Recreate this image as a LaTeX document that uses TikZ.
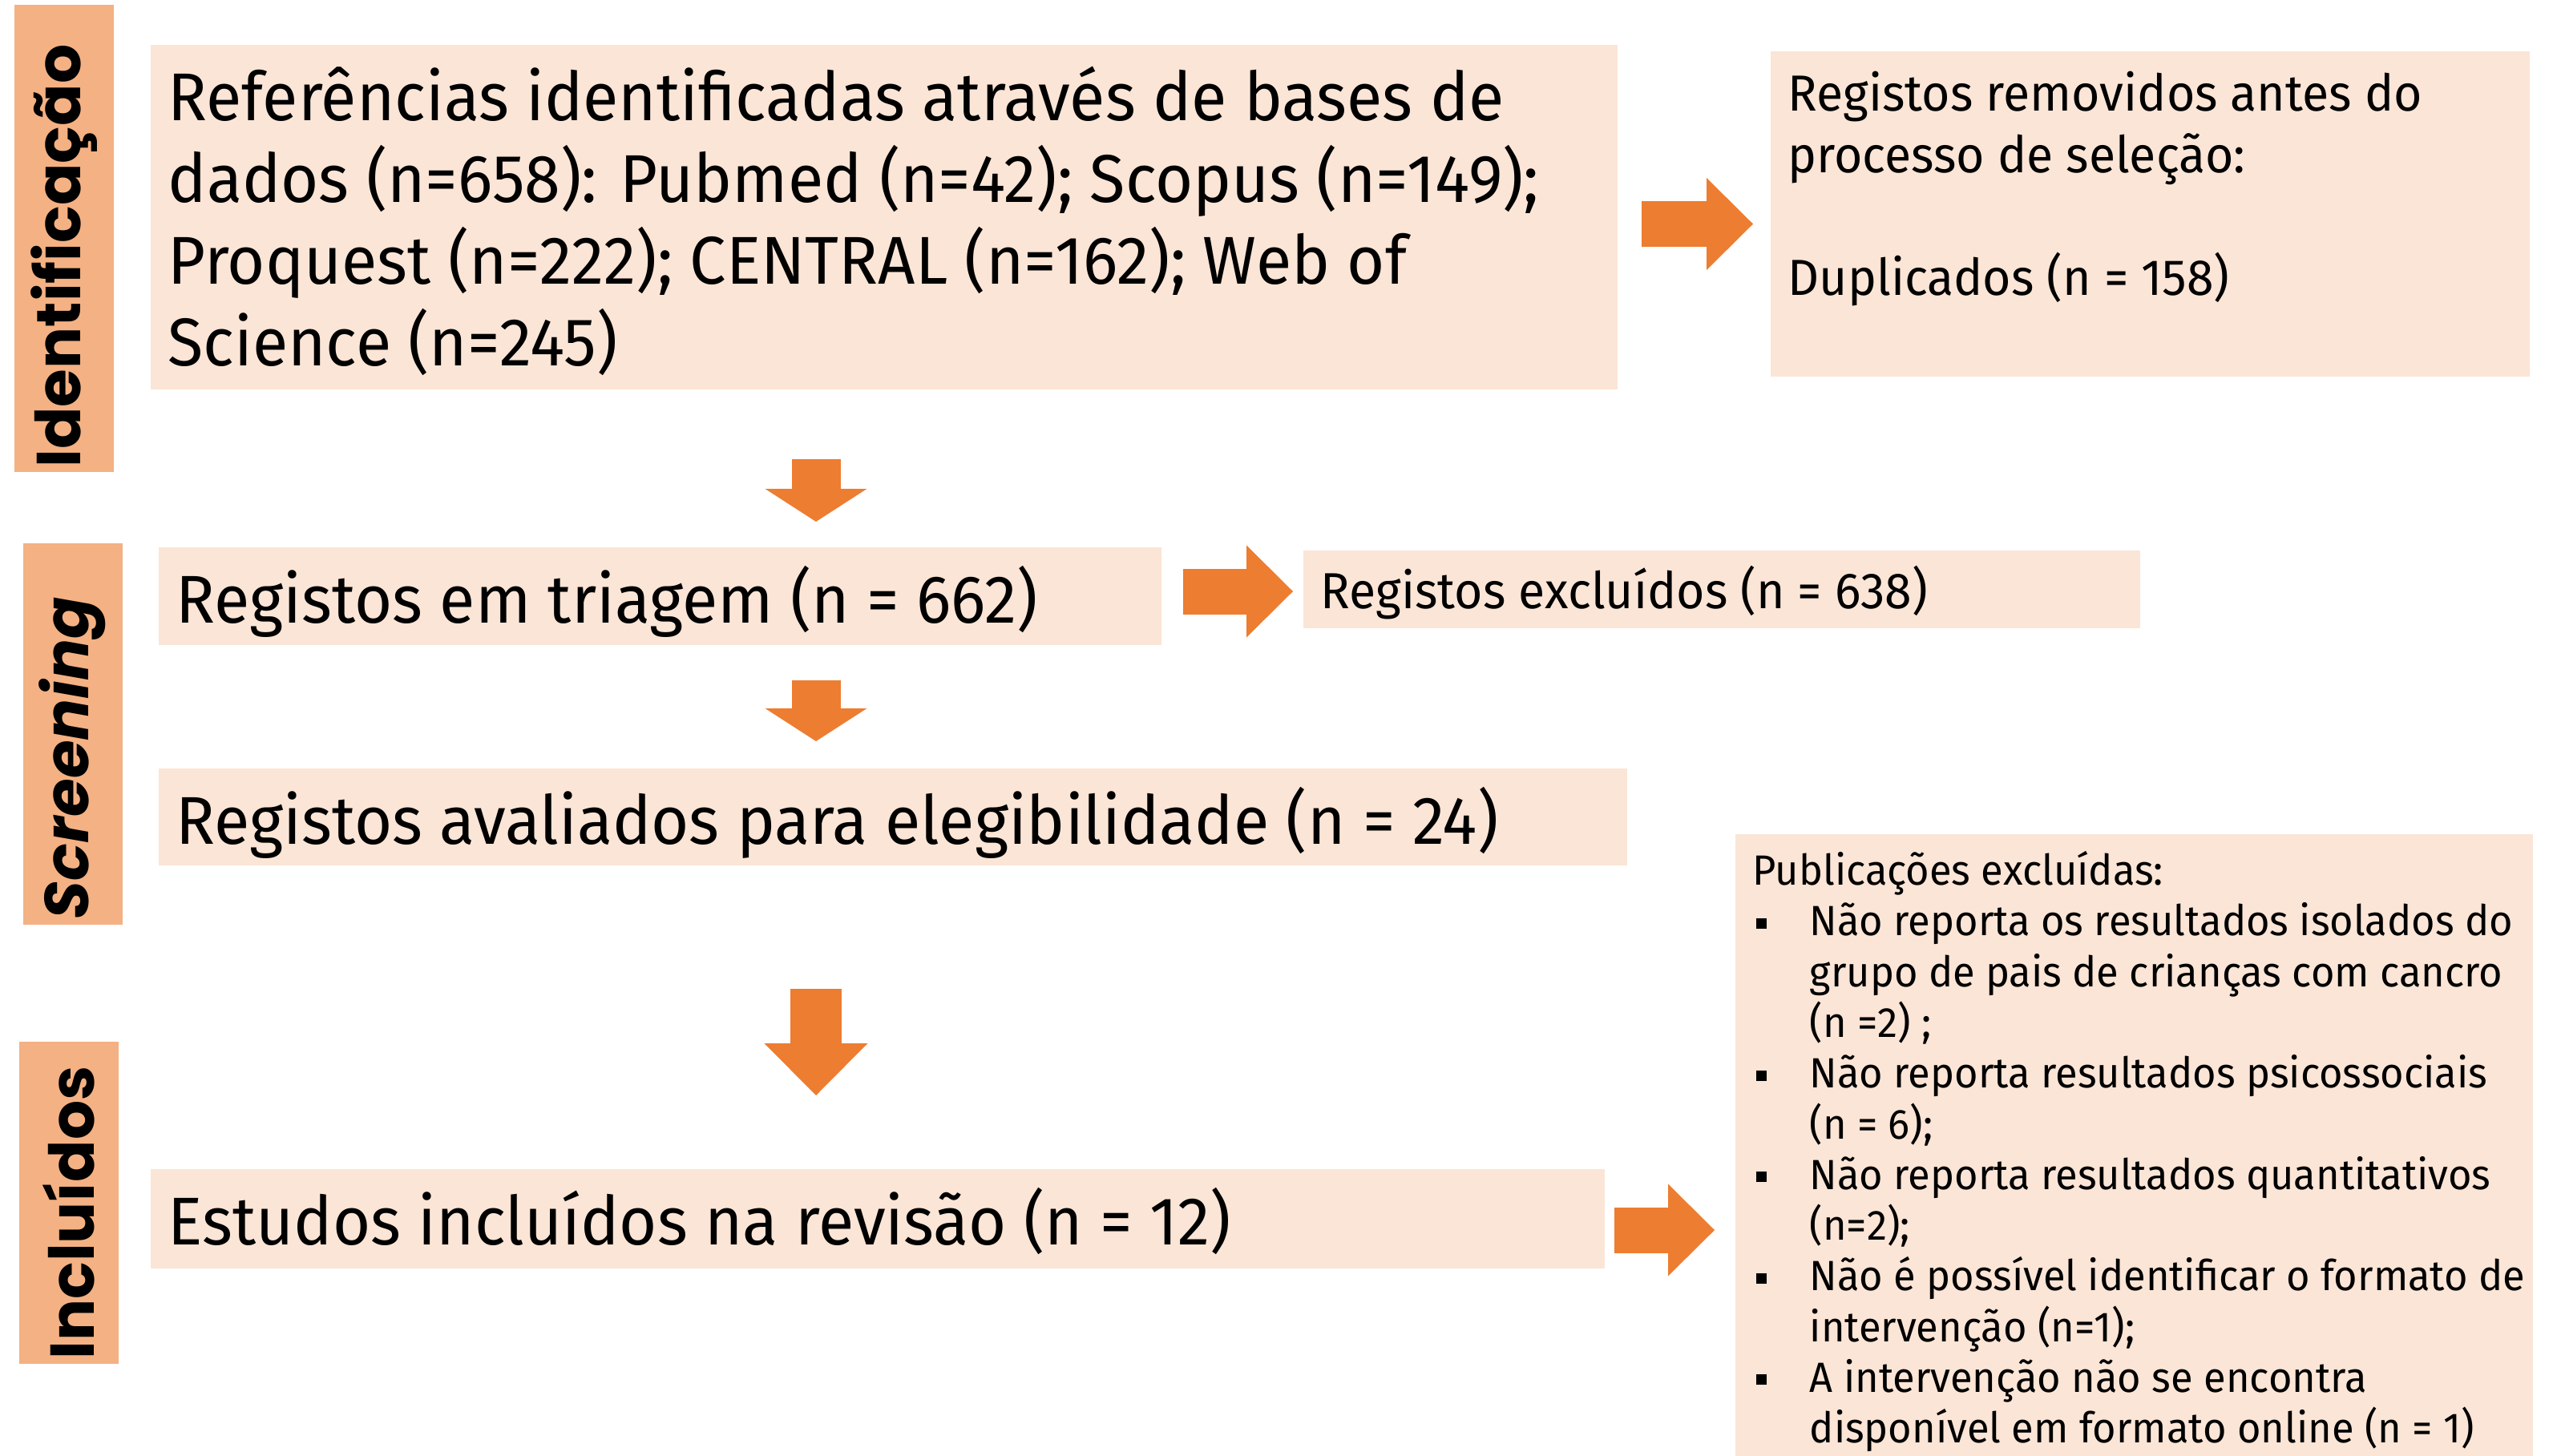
\documentclass[tikz,border=0pt]{standalone}
\usepackage{fontspec}
\setmainfont{Fira Sans}[FakeStretch=0.96]
\newfontfamily\labfont{Poppins}
\usetikzlibrary{arrows.meta}

\definecolor{phasec}{HTML}{F4B183}
\definecolor{boxc}{HTML}{FBE5D6}
\definecolor{arrowc}{HTML}{ED7D31}

% text in a box: width, height, first baseline, text
\newcommand{\boxtext}[4]{\parbox[c][#2][t]{#1}{\leftskip=0.22cm\rightskip=0pt plus 1fil\relax\rule{0pt}{#3}#4}}
\newcommand{\pubitem}[1]{\par\hangindent=0.71cm\hangafter=1\noindent\makebox[0.71cm][l]{\hspace{0.04cm}\raisebox{0.09cm}{\rule{0.13cm}{0.13cm}}}#1}

\begin{document}
\begin{tikzpicture}[
                phase/.style={fill=phasec,rotate=90,inner sep=0pt,minimum height=1.24cm,font=\labfont\bfseries\fontsize{22}{26}\selectfont},
                box/.style={fill=boxc,inner sep=0pt,anchor=north west},
                rarrow/.style={draw=arrowc,line width=0.57cm,-{Triangle[length=0.58cm,width=1.15cm,line width=0pt]}},
                darrow/.style={draw=arrowc,line width=0.61cm,-{Triangle[length=0.41cm,width=1.27cm,line width=0pt]}},
                bigdarrow/.style={draw=arrowc,line width=0.64cm,-{Triangle[length=0.65cm,width=1.29cm,line width=0pt]}},
            ]
            \useasboundingbox (0,0) rectangle (31.85,-18.16);

            % Phase labels
            \node[phase,minimum width=5.83cm] (idlab) at (0.80,-2.975) {\hspace*{-0.44cm}Identificação};
            \node[phase,minimum width=4.76cm] (scrlab) at (0.905,-9.16) {\hspace*{-0.6cm}\itshape Screening};
            \node[phase,minimum width=4.02cm] (inclab) at (0.86,-15.01) {\hspace*{-0.25cm}Incluídos};

            % Define nodes
            \node[box,font=\fontsize{24}{29}\selectfont] (ref) at (1.87,-0.55) {\boxtext{18.30cm}{4.30cm}{0.95cm}{Referências identificadas através de bases de\\ dados (n=658): Pubmed (n=42); Scopus (n=149);\\ Proquest (n=222); CENTRAL (n=162); Web of\\ Science (n=245)}};
            \node[box,font=\fontsize{18}{21.8}\selectfont] (rem) at (22.08,-0.63) {\boxtext{9.47cm}{4.06cm}{0.75cm}{Registos removidos antes do\\ processo de seleção:\\[0.77cm] Duplicados (n = 158)}};
            \node[box,font=\fontsize{24}{29}\selectfont] (tri) at (1.97,-6.82) {\boxtext{12.51cm}{1.22cm}{0.95cm}{Registos em triagem (n = 662)}};
            \node[box,font=\fontsize{18}{21.8}\selectfont] (excl) at (16.25,-6.86) {\boxtext{10.44cm}{0.97cm}{0.73cm}{Registos excluídos (n = 638)}};
            \node[box,font=\fontsize{24}{29}\selectfont] (aval) at (1.97,-9.58) {\boxtext{18.32cm}{1.21cm}{0.95cm}{Registos avaliados para elegibilidade (n = 24)}};
            \node[box,font=\fontsize{24}{29}\selectfont] (est) at (1.87,-14.58) {\boxtext{18.14cm}{1.24cm}{0.95cm}{Estudos incluídos na revisão (n = 12)}};
            \node[box,font=\fontsize{15}{18}\selectfont] (pub) at (21.64,-10.40) {\boxtext{9.95cm}{7.76cm}{0.64cm}{Publicações excluídas:
                \pubitem{Não reporta os resultados isolados do\\ grupo de pais de crianças com cancro\\ (n =2) ;}
                \pubitem{Não reporta resultados psicossociais\\ (n = 6);}
                \pubitem{Não reporta resultados quantitativos\\ (n=2);}
                \pubitem{Não é possível identificar o formato de\\ intervenção (n=1);}
                \pubitem{A intervenção não se encontra\\ disponível em formato online (n = 1)}}};

            % Arrow column and rows
            \coordinate (mid) at (10.18,0);
            \coordinate (row1) at (0,-2.795);
            \coordinate (row2) at (0,-7.38);
            \coordinate (row4) at (0,-15.35);

            % Draw connections
            \draw[darrow,shorten <=0.87cm,shorten >=0.31cm] (ref.south -| mid) -- (tri.north -| mid);
            \draw[darrow,shorten <=0.44cm,shorten >=0.33cm] (tri.south -| mid) -- (aval.north -| mid);
            \draw[bigdarrow,shorten <=1.54cm,shorten >=0.91cm] (aval.south -| mid) -- (est.north -| mid);
            \draw[rarrow,shorten <=0.30cm,shorten >=0.21cm] (ref.east |- row1) -- (rem.west |- row1);
            \draw[rarrow,shorten <=0.27cm,shorten >=0.12cm] (tri.east |- row2) -- (excl.west |- row2);
            \draw[rarrow,shorten <=0.12cm,shorten >=0.25cm] (est.east |- row4) -- (pub.west |- row4);

            \end{tikzpicture}
\end{document}
